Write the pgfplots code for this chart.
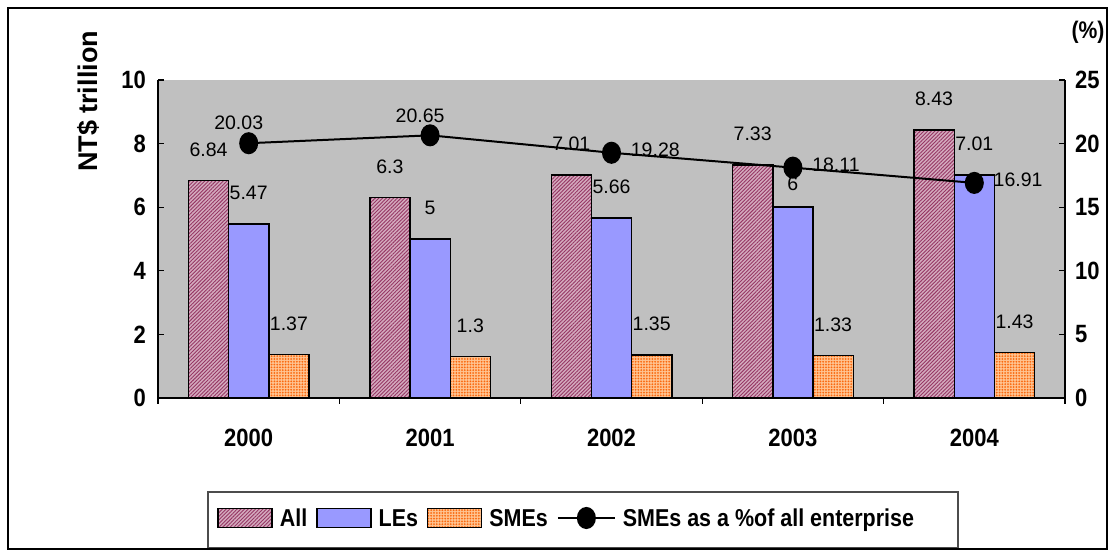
\documentclass[border=0pt]{standalone}
\usepackage{fontspec}
\setmainfont{Liberation Sans}
\newfontfamily\condsans[FakeStretch=0.88]{Liberation Sans}
\usepackage{pgfplots}
\usepackage{pgfplotstable}
\pgfplotsset{compat=1.18}
\usetikzlibrary{patterns,patterns.meta}

\definecolor{plotgray}{RGB}{192,192,192}
\definecolor{allbase}{RGB}{212,170,190}
\definecolor{allline}{RGB}{150,55,100}
\definecolor{lesblue}{RGB}{153,153,255}
\definecolor{smebase}{RGB}{255,195,145}
\definecolor{smedot}{RGB}{250,105,15}

% enterprise sales (NT$ trillion) and SME share (%); lesdy = label lift for LEs
\pgfplotstableread{
x all les sme pct lesdy
0 6.84 5.47 1.37 20.03 15.5
1 6.3  5    1.3  20.65 15.5
2 7.01 5.66 1.35 19.28 15.5
3 7.33 6    1.33 18.11 11.5
4 8.43 7.01 1.43 16.91 15.5
}\salesdata

\tikzset{vallabel/.style={font=\fontsize{9.75}{11}\selectfont, text=black}}

\pgfplotsset{
  barbase/.style={draw=black, line width=0.7pt},
  allbar/.style={barbase, fill=allbase,
    postaction={pattern={Lines[angle=45,distance=1.3pt,line width=0.45pt]}, pattern color=allline}},
  lesbar/.style={barbase, fill=lesblue},
  smebar/.style={barbase, fill=smebase,
    postaction={pattern={Dots[distance=1.4pt,radius=0.5pt]}, pattern color=smedot}},
  swatch/.style={legend image code/.code={\draw[##1] (0pt,-4.75pt) rectangle (27pt,4.75pt);}},
  pctlegend/.style={legend image code/.code={\draw[##1, mark repeat=2, mark phase=2]
    plot coordinates {(0pt,0pt) (14.25pt,0pt) (28.5pt,0pt)};}},
  frame/.style={at={(79pt,78.5pt)}, anchor=south west, scale only axis,
    width=453.5pt, height=159pt, xmin=-0.5, xmax=4.5},
}

\begin{document}
\begin{tikzpicture}
\useasboundingbox (0,0) rectangle (557.5pt,277.5pt);

% left axis: bars
\begin{axis}[
  frame, ymin=0, ymax=10,
  axis x line*=bottom, axis y line*=left,
  axis line style={black, line width=0.6pt},
  axis background/.style={fill=plotgray},
  xtick={-0.5,0.5,...,4.5}, x tick label as interval,
  xticklabels={2000,2001,2002,2003,2004},
  ytick={0,2,...,10},
  tick align=inside, major tick length=3pt,
  tick style={black, line width=0.6pt},
  ticklabel style={font=\condsans\bfseries\fontsize{12.5}{14}\selectfont},
  /pgf/number format/assume math mode=true,
  xticklabel style={yshift=-9pt},
  yticklabel style={xshift=-2.5pt},
  ybar, bar width=0.2216,
  nodes near coords,
  every node near coord/.append style={vallabel, anchor=center},
  clip=false,
]
\addplot[allbar, bar shift=-0.2216,
  every node near coord/.append style={yshift=15.5pt}]
  table[x=x, y=all] {\salesdata};
\addplot[lesbar, bar shift=0,
  visualization depends on={\thisrow{lesdy} \as \lesdy},
  every node near coord/.append style={yshift=\lesdy pt}]
  table[x=x, y=les] {\salesdata};
\addplot[smebar, bar shift=0.2216,
  every node near coord/.append style={yshift=15.5pt}]
  table[x=x, y=sme] {\salesdata};
\end{axis}

% right axis: SME share
\begin{axis}[
  frame, ymin=0, ymax=25,
  axis y line*=right, axis x line=none,
  axis line style={black, line width=0.6pt},
  ytick={0,5,...,25},
  tick align=inside, major tick length=3pt,
  tick style={black, line width=0.6pt},
  ticklabel style={font=\condsans\bfseries\fontsize{12.5}{14}\selectfont},
  /pgf/number format/assume math mode=true,
  yticklabel style={xshift=1.5pt},
  clip=false,
  legend columns=-1,
  legend style={at={(axis description cs:0.06505,-0.37736)}, anchor=west,
    draw=none, fill=none, inner sep=0pt,
    nodes={inner sep=0pt, text depth=0pt},
    font=\condsans\bfseries\fontsize{12.2}{14}\selectfont,
    /tikz/every odd column/.append style={column sep=3.5pt},
    /tikz/every even column/.append style={column sep=4.5pt}},
]
\addlegendimage{allbar, swatch}
\addlegendentry{All}
\addlegendimage{lesbar, swatch}
\addlegendentry{LEs}
\addlegendimage{smebar, swatch}
\addlegendentry{SMEs}
\addplot[black, line width=1pt, mark=*, mark size=4.25pt,
  mark options={yscale=1.18, fill=black}, pctlegend]
  table[x=x, y=pct] {\salesdata};
\addlegendentry{SMEs as a \%of all enterprise}
% value labels, first two above left, the rest to the right
\addplot[draw=none, mark=none, forget plot, nodes near coords,
  skip coords between index={2}{5},
  every node near coord/.append style={vallabel,
    anchor=center, xshift=-5pt, yshift=10pt}]
  table[x=x, y=pct] {\salesdata};
\addplot[draw=none, mark=none, forget plot, nodes near coords,
  skip coords between index={0}{2},
  every node near coord/.append style={vallabel,
    anchor=west, inner sep=0pt, xshift=9.5pt, yshift=1.5pt}]
  table[x=x, y=pct] {\salesdata};
\end{axis}

\node[rotate=90, font=\bfseries\fontsize{13.5}{16}\selectfont] at (44pt,226.75pt) {NT\$ trillion};
\node[font=\condsans\bfseries\fontsize{12}{14}\selectfont] at (544pt,261.5pt) {(\%)};
\draw[black!70, line width=0.6pt] (104pt,3.5pt) rectangle (479pt,31.5pt);
\draw[black, line width=1pt] (4pt,3pt) rectangle (553.5pt,273.5pt);
\end{tikzpicture}
\end{document}
